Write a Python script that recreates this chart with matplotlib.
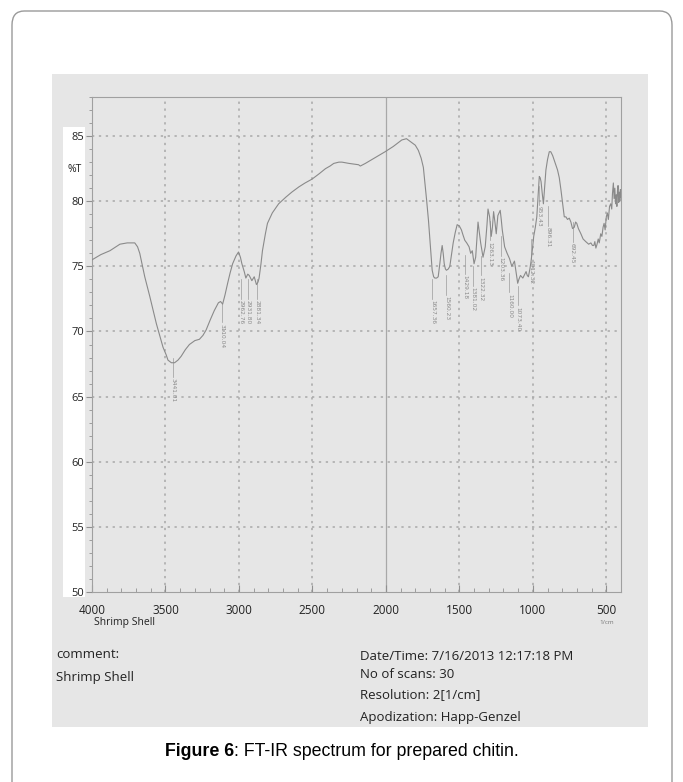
import matplotlib
matplotlib.use("Agg")
import matplotlib.pyplot as plt
from matplotlib.patches import Rectangle, FancyBboxPatch
from matplotlib.ticker import MultipleLocator

# FT-IR spectrum (wavenumber 1/cm, %T)
wavenumber = [4000, 3940, 3878, 3810, 3760, 3731, 3709, 3690, 3675, 3641,
              3607, 3562, 3517, 3495, 3483, 3460, 3438, 3415, 3393, 3365,
              3337, 3300, 3269, 3245, 3224, 3195, 3168, 3140, 3125, 3111,
              3095, 3077, 3060, 3043, 3020, 3003, 2990, 2980, 2964, 2953,
              2940, 2930, 2912, 2896, 2881, 2870, 2863, 2850, 2840, 2820,
              2806, 2773, 2730, 2682, 2640, 2592, 2550, 2502, 2455, 2411,
              2380, 2355, 2320, 2299, 2250, 2186, 2174, 2140, 2095, 2050,
              2005, 1950, 1892, 1860, 1836, 1800, 1779, 1760, 1745, 1735,
              1723, 1710, 1700, 1692, 1685, 1675, 1667, 1655, 1644, 1633,
              1625, 1617, 1610, 1603, 1595, 1588, 1575, 1565, 1555, 1542,
              1528, 1515, 1500, 1486, 1475, 1463, 1450, 1434, 1423, 1412,
              1400, 1389, 1380, 1373, 1365, 1355, 1339, 1324, 1312, 1305,
              1294, 1283, 1275, 1267, 1258, 1249, 1238, 1222, 1215, 1208,
              1192, 1175, 1159, 1143, 1125, 1115, 1103, 1095, 1084, 1068,
              1055, 1046, 1038, 1030, 1020, 1012, 1003, 994, 983, 973,
              965, 956, 950, 944, 936, 928, 920, 911, 900, 888,
              878, 865, 850, 832, 820, 809, 798, 786, 775, 764,
              752, 741, 730, 718, 709, 701, 690, 673, 658, 640,
              620, 605, 594, 585, 578, 571, 563, 555, 548, 538,
              530, 522, 515, 508, 500, 493, 486, 478, 470, 463,
              458, 452, 447, 442, 437, 432, 428, 424, 420, 416,
              412, 408, 404, 401]
transmittance = [75.5, 75.9, 76.2, 76.7, 76.8, 76.8, 76.8, 76.5, 76.0, 74.2,
                 72.7, 70.6, 68.8, 68.2, 67.8, 67.6, 67.6, 67.8, 68.1, 68.6,
                 69.0, 69.3, 69.4, 69.7, 70.1, 70.9, 71.6, 72.2, 72.3, 72.1,
                 72.8, 73.7, 74.5, 75.2, 75.8, 76.1, 75.7, 75.2, 74.6, 74.1,
                 74.4, 74.3, 73.9, 74.2, 73.6, 73.8, 74.1, 75.2, 76.2, 77.5,
                 78.3, 79.1, 79.8, 80.3, 80.7, 81.1, 81.4, 81.7, 82.1, 82.5,
                 82.7, 82.9, 83.0, 83.0, 82.9, 82.8, 82.7, 82.9, 83.2, 83.5,
                 83.8, 84.2, 84.7, 84.8, 84.6, 84.3, 83.9, 83.3, 82.6, 81.5,
                 80.1, 78.5, 77.0, 75.8, 74.7, 74.2, 74.1, 74.1, 74.2, 75.2,
                 76.0, 76.6, 76.0, 75.2, 74.8, 74.7, 74.8, 75.0, 75.8, 76.8,
                 77.6, 78.2, 78.1, 77.8, 77.4, 77.0, 76.8, 76.5, 76.0, 76.2,
                 75.2, 75.7, 77.2, 78.4, 77.7, 76.8, 75.7, 76.5, 78.2, 79.4,
                 78.8, 77.3, 78.0, 79.2, 78.4, 77.5, 78.9, 79.3, 78.6, 77.8,
                 76.5, 76.0, 75.6, 75.0, 75.4, 74.6, 73.7, 74.0, 74.3, 74.1,
                 74.4, 74.6, 74.3, 74.2, 74.8, 75.4, 76.3, 77.3, 78.0, 78.8,
                 80.2, 81.9, 81.8, 81.5, 80.6, 79.8, 81.0, 82.4, 83.2, 83.8,
                 83.8, 83.5, 83.0, 82.4, 81.8, 80.9, 79.9, 78.8, 78.8, 78.6,
                 78.7, 78.4, 77.9, 78.0, 78.4, 78.3, 77.9, 77.5, 77.1, 76.9,
                 76.7, 76.8, 76.6, 76.6, 76.9, 76.4, 76.7, 77.1, 76.8, 77.5,
                 77.3, 78.0, 78.3, 77.8, 78.8, 79.1, 78.6, 79.6, 79.8, 79.4,
                 80.6, 81.4, 80.2, 81.0, 79.8, 80.5, 79.6, 80.8, 81.2, 79.9,
                 80.7, 80.0, 80.9, 80.3]

# peak labels: position, text, top of label (%T)
peak_pos = [3448, 3113, 2987, 2935, 2874, 1683, 1588, 1463, 1407, 1351,
            1294, 1215, 1159, 1102, 1012, 955, 899, 730]
peak_text = ["3441.01", "3110.04", "2962.76", "2931.80", "2881.34", "1657.36",
             "1560.23", "1429.18", "1381.02", "1322.32", "1263.13", "1203.36",
             "1160.00", "1073.40", "1012.32", "953.43", "896.31", "692.45"]
peak_top = [66.4, 70.6, 72.4, 72.4, 72.4, 72.4, 72.7, 74.3, 73.4, 74.2,
            76.9, 75.7, 72.9, 71.9, 75.5, 79.6, 78.0, 76.8]

x_ticks = [4000, 3500, 3000, 2500, 2000, 1500, 1000, 500]
y_ticks = [50, 55, 60, 65, 70, 75, 80, 85]

W, H = 683, 782
def fx(x):
    return x / W
def fy(y):
    return 1 - y / H

fig = plt.figure(figsize=(W / 100, H / 100), dpi=100)
fig.patch.set_facecolor("white")

# outer rounded frame of the page and the grey scanned panel
frame = FancyBboxPatch((fx(12), fy(800)), fx(660), (800 - 11) / H,
                       boxstyle="round,pad=0,rounding_size=0.018",
                       transform=fig.transFigure, fc="none", ec="#9a9a9a",
                       lw=1.0, zorder=-3)
fig.patches.append(frame)
fig.patches.append(Rectangle((fx(52), fy(727)), fx(596), (727 - 74) / H,
                             transform=fig.transFigure, fc="#e6e6e6",
                             ec="none", zorder=-2))
fig.patches.append(Rectangle((fx(63), fy(597)), fx(22), (597 - 127) / H,
                             transform=fig.transFigure, fc="white",
                             ec="none", zorder=-1))

ax = fig.add_axes([fx(92), fy(592), fx(621 - 92), (592 - 97) / H])
ax.patch.set_alpha(0)
ax.set_xlim(4000, 400)
ax.set_ylim(50, 88)

# grid
for v in x_ticks[1:]:
    if v == 2000:
        ax.axvline(v, color="#a8a8a8", lw=0.9, zorder=1)
    else:
        ax.axvline(v, color="#a8a8a8", lw=1.1, ls=(0, (1.5, 3)), zorder=1)
for t in y_ticks[1:]:
    ax.axhline(t, color="#a8a8a8", lw=1.1, ls=(0, (1.5, 3)), zorder=1)

ax.plot(wavenumber, transmittance, color="#8a8a8a", lw=0.8, zorder=3)

# peak markers
for p, s, top in zip(peak_pos, peak_text, peak_top):
    ax.plot([p, p], [top + 1.6, top + 0.1], color="#9a9a9a", lw=0.5, zorder=2)
    ax.text(p, top, s, rotation=-90, fontsize=4.2, color="#8a8a8a",
            ha="center", va="top", family="DejaVu Sans", zorder=2)

for side in ["top", "right", "left", "bottom"]:
    ax.spines[side].set_color("#a0a0a0")
    ax.spines[side].set_linewidth(0.8)

ax.set_xticks(x_ticks)
ax.set_yticks(y_ticks)
ax.xaxis.set_minor_locator(MultipleLocator(100))
ax.yaxis.set_minor_locator(MultipleLocator(1))
ax.tick_params(axis="x", which="major", direction="in", length=5, color="#909090",
               pad=9, labelsize=8.5, labelcolor="#222222")
ax.tick_params(axis="x", which="minor", direction="in", length=3, color="#909090")
ax.tick_params(axis="y", which="major", direction="out", length=4, color="#909090",
               pad=1.5, labelsize=8, labelcolor="#222222")
ax.tick_params(axis="y", which="minor", direction="out", length=2, color="#909090")
for lab in ax.get_xticklabels() + ax.get_yticklabels():
    lab.set_family("Open Sans")

info = dict(family="Open Sans", color="#222222")
fig.text(fx(75), fy(169), "%T", fontsize=7.5, ha="center", va="center", **info)
fig.text(fx(125), fy(622), "Shrimp Shell", fontsize=7.5, ha="center", va="center", **info)
fig.text(fx(607), fy(622), "1/cm", fontsize=4.5, ha="center", va="center",
         family="Open Sans", color="#777777")

fig.text(fx(56), fy(654), "comment:", fontsize=9.5, ha="left", va="center", **info)
fig.text(fx(56), fy(677), "Shrimp Shell", fontsize=9.5, ha="left", va="center", **info)
fig.text(fx(360), fy(657), "Date/Time: 7/16/2013 12:17:18 PM", fontsize=9.5,
         ha="left", va="center", **info)
fig.text(fx(360), fy(674), "No of scans: 30", fontsize=9.5, ha="left", va="center", **info)
fig.text(fx(360), fy(695), "Resolution: 2[1/cm]", fontsize=9.5, ha="left", va="center", **info)
fig.text(fx(360), fy(717), "Apodization: Happ-Genzel", fontsize=9.5, ha="left",
         va="center", **info)

cap = fig.text(fx(165), fy(752), "Figure 6", fontsize=12.8, fontweight="bold",
               family="Liberation Sans", ha="left", va="center")
fig.canvas.draw()
bb = cap.get_window_extent()
fig.text(bb.x1 / W, fy(752), ": FT-IR spectrum for prepared chitin.", fontsize=12.8,
         family="Liberation Sans", ha="left", va="center")

fig.savefig("out.png", dpi=100)
